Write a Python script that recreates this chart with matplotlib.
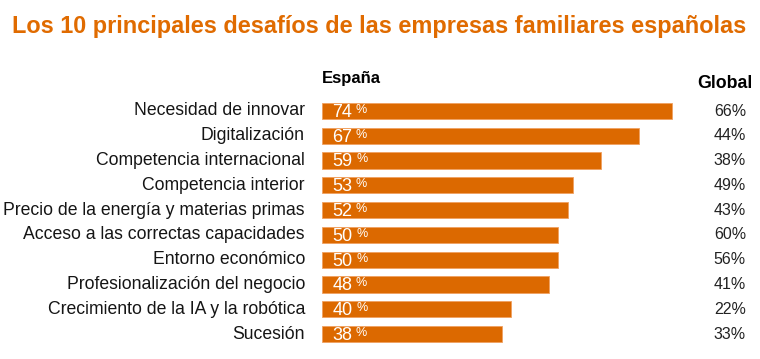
import matplotlib.pyplot as plt

categories = [
    "Necesidad de innovar",
    "Digitalización",
    "Competencia internacional",
    "Competencia interior",
    "Precio de la energía y materias primas",
    "Acceso a las correctas capacidades",
    "Entorno económico",
    "Profesionalización del negocio",
    "Crecimiento de la IA y la robótica",
    "Sucesión",
]
espana = [74, 67, 59, 53, 52, 50, 50, 48, 40, 38]
global_vals = [66, 44, 38, 49, 43, 60, 56, 41, 22, 33]

orange = "#dc6900"
plt.rcParams["font.family"] = ["Liberation Sans", "DejaVu Sans"]

W, H = 760, 359
fig = plt.figure(figsize=(W / 100, H / 100), dpi=100)

# axes placed in pixel terms: bars start at x=322, 74% ends near x=672
left, right = 322, 722
top, bottom = 98.6, 346.4
ax = fig.add_axes([left / W, 1 - bottom / H, (right - left) / W, (bottom - top) / H])
ax.set_xlim(0, (right - left) / ((672 - 322) / 74))
ax.set_ylim(len(categories) - 0.5, -0.5)
ax.axis("off")

ypos = list(range(len(categories)))
ax.barh(ypos, espana, height=0.65, color=orange, edgecolor="#f0a060", linewidth=0.6)

for i, (cat, v, g) in enumerate(zip(categories, espana, global_vals)):
    ax.text(-3.6, i, cat, ha="right", va="center", fontsize=12.7, color="#151515")
    t = ax.annotate(str(v), (2.2, i), ha="left", va="center", fontsize=13,
                    color="white", xytext=(0, -1), textcoords="offset points")
    ax.annotate("%", (1, 1), xycoords=t, xytext=(2.5, 0), textcoords="offset points",
                ha="left", va="top", fontsize=9, color="white")
    fig.text(746 / W, 1 - (111 + 24.78 * i) / H, f"{g}%", ha="right", va="center",
             fontsize=11.5, color="#222222")

fig.text(322 / W, 1 - 79 / H, "España", ha="left", va="center", fontsize=12,
         fontweight="bold", color="black")
fig.text(753 / W, 1 - 84 / H, "Global", ha="right", va="center", fontsize=12.8,
         fontweight="bold", color="black")
fig.text(379 / W, 1 - 27 / H,
         "Los 10 principales desafíos de las empresas familiares españolas",
         ha="center", va="center", fontsize=16.9, fontweight="bold", color="#e06b00")

fig.savefig("out.png", dpi=100)
